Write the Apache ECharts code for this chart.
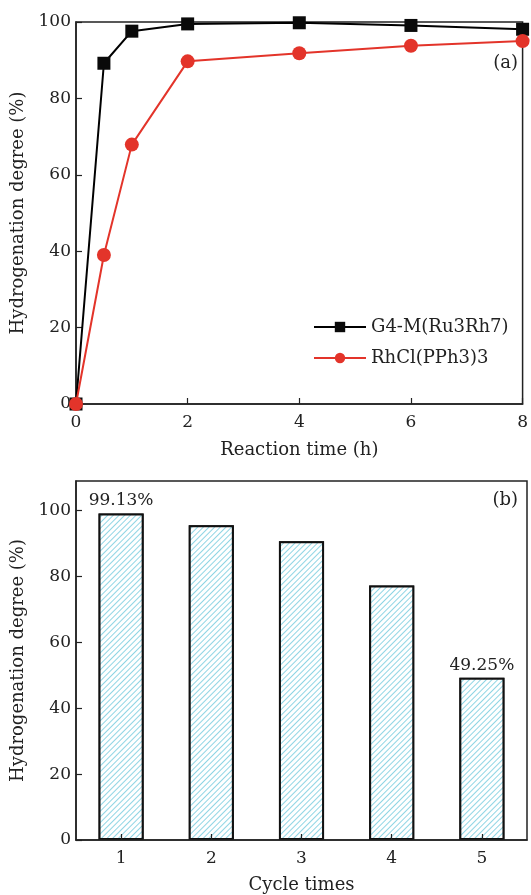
<!DOCTYPE html>
<html>
<head>
<meta charset="utf-8">
<script src="https://cdn.jsdelivr.net/npm/echarts@6/dist/echarts.min.js"></script>
<style>
  html, body { margin: 0; padding: 0; background: #fff; }
  #main { width: 531px; height: 895px; }
</style>
</head>
<body>
<div id="main"></div>
<script>
// (a) reaction time curves
var timeH = [0, 0.5, 1, 2, 4, 6, 8];
var g4m = [0, 89.2, 97.6, 99.5, 99.8, 99.1, 98.1];
var rhcl = [0, 39.0, 67.9, 89.7, 91.8, 93.8, 95.0];
// (b) cycle test
var cycles = ['1', '2', '3', '4', '5'];
var cycleDegree = [99.13, 95.6, 90.7, 77.3, 49.25];
var labelled = [0, 4]; // bars with value labels

var serif = 'DejaVu Serif';
var txt = '#222';

function pairs(xs, ys) {
    return xs.map(function (x, i) { return [x, ys[i]]; });
}

var myChart = echarts.init(document.getElementById('main'));

var axisBase = {
    axisLine: { show: true, lineStyle: { color: txt, width: 1.5 } },
    axisTick: { show: true, inside: true, length: 6, lineStyle: { color: txt, width: 1.2 } },
    axisLabel: { color: txt, fontFamily: serif, fontSize: 17, margin: 5 },
    splitLine: { show: false },
    nameTextStyle: { color: txt, fontFamily: serif, fontSize: 18 }
};

option = {
    animation: false,
    backgroundColor: '#fff',
    title: [
        { text: '(a)', right: 8, top: 49, textStyle: { fontFamily: serif, fontSize: 18, fontWeight: 'normal', color: txt } },
        { text: '(b)', right: 8, top: 486, textStyle: { fontFamily: serif, fontSize: 18, fontWeight: 'normal', color: txt } }
    ],
    legend: {
        left: 308,
        top: 313,
        orient: 'vertical',
        itemWidth: 52,
        itemHeight: 13,
        itemGap: 13,
        textStyle: { fontFamily: serif, fontSize: 18, color: txt },
        data: ['G4-M(Ru3Rh7)', 'RhCl(PPh3)3']
    },
    grid: [
        { left: 76, top: 22, right: 1, bottom: 491, show: true, borderColor: txt, borderWidth: 1.5, containLabel: false },
        { left: 76, top: 481, right: 4, bottom: 49, show: true, borderColor: txt, borderWidth: 1.5, containLabel: false }
    ],
    xAxis: [
        Object.assign({}, axisBase, {
            gridIndex: 0, type: 'value', min: 0, max: 8, interval: 2,
            axisLabel: { color: txt, fontFamily: serif, fontSize: 17, margin: 10 },
            name: 'Reaction time (h)', nameLocation: 'middle', nameGap: 37
        }),
        Object.assign({}, axisBase, {
            gridIndex: 1, type: 'category', data: cycles, z: 5,
            axisTick: { show: true, inside: true, alignWithLabel: true, length: 6, lineStyle: { color: txt, width: 1.2 } },
            axisLabel: { color: txt, fontFamily: serif, fontSize: 17, margin: 10 },
            name: 'Cycle times', nameLocation: 'middle', nameGap: 36
        })
    ],
    yAxis: [
        Object.assign({}, axisBase, {
            gridIndex: 0, type: 'value', min: 0, max: 100, interval: 20,
            name: 'Hydrogenation degree (%)', nameLocation: 'middle', nameGap: 41
        }),
        Object.assign({}, axisBase, {
            gridIndex: 1, type: 'value', min: 0, max: 109, interval: 20,
            axisLabel: {
                color: txt, fontFamily: serif, fontSize: 17, margin: 5, showMaxLabel: false,
                formatter: function (v) { return v % 20 === 0 ? v : ''; }
            },
            name: 'Hydrogenation degree (%)', nameLocation: 'middle', nameGap: 41
        })
    ],
    series: [
        {
            name: 'G4-M(Ru3Rh7)',
            type: 'line',
            xAxisIndex: 0, yAxisIndex: 0,
            data: pairs(timeH, g4m),
            symbol: 'rect', symbolSize: 13,
            lineStyle: { color: '#000', width: 2 },
            itemStyle: { color: '#0a0a0a' },
            z: 3
        },
        {
            name: 'RhCl(PPh3)3',
            type: 'line',
            xAxisIndex: 0, yAxisIndex: 0,
            data: pairs(timeH, rhcl),
            symbol: 'circle', symbolSize: 14,
            lineStyle: { color: '#e3342a', width: 2 },
            itemStyle: { color: '#e3342a' },
            z: 4
        },
        {
            name: 'cycle',
            type: 'bar',
            xAxisIndex: 1, yAxisIndex: 1,
            barWidth: '50%',
            data: cycleDegree.map(function (v, i) {
                return {
                    value: v,
                    label: {
                        show: labelled.indexOf(i) >= 0,
                        position: 'top', distance: 4,
                        formatter: '{c}%',
                        fontFamily: serif, fontSize: 17, color: txt
                    }
                };
            }),
            itemStyle: {
                color: '#fff',
                borderColor: '#111',
                borderWidth: 2,
                decal: {
                    symbol: 'rect',
                    symbolSize: 1,
                    color: '#8fd5e4',
                    backgroundColor: '#fff',
                    dashArrayX: [1, 0],
                    dashArrayY: [1, 3],
                    rotation: -Math.PI / 4
                }
            }
        }
    ]
};

myChart.setOption(option, true);
</script>
</body>
</html>
